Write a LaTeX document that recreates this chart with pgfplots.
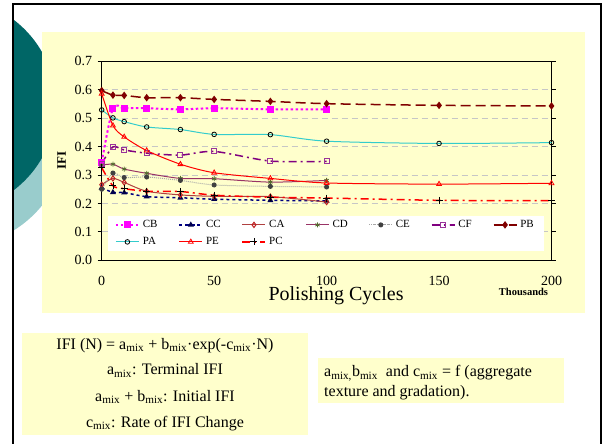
\documentclass[border=0pt]{standalone}
\usepackage{fontspec}
\setmainfont{Liberation Serif}
\usepackage{pgfplots}
\pgfplotsset{compat=1.18}
\definecolor{slideyellow}{HTML}{FFFFCC}
\definecolor{darkteal}{HTML}{006666}
\definecolor{lightteal}{HTML}{99CCCC}
\definecolor{cbcol}{HTML}{FF00FF}
\definecolor{cccol}{HTML}{000080}
\definecolor{cacol}{HTML}{B04040}
\definecolor{camark}{HTML}{C02020}
\definecolor{cdcol}{HTML}{993366}
\definecolor{cdmark}{HTML}{556B2F}
\definecolor{cecol}{HTML}{A8A8A8}
\definecolor{cemark}{HTML}{404040}
\definecolor{cfcol}{HTML}{800080}
\definecolor{cfmark}{HTML}{993399}
\definecolor{pbcol}{HTML}{800000}
\definecolor{pacol}{HTML}{33CCCC}
\definecolor{pecol}{HTML}{FF0000}
\definecolor{pccol}{HTML}{FF0000}
\begin{document}
\begin{tikzpicture}
\path[use as bounding box] (0pt,0pt) rectangle (602pt,-444pt);
\begin{scope}[x=1pt,y=-1pt]
  \fill[white] (0,0) rectangle (602,444);
  \begin{scope}
    \clip (13,4) rectangle (602,444);
    \fill[lightteal] (-45,135) circle (112);
    \fill[darkteal] (-51,105) circle (107);
  \end{scope}
  \draw[black, line width=2.5pt] (13,450) -- (13,4) -- (601,4) -- (601,450);
  \fill[slideyellow] (41.5,32) rectangle (585,313);
  \fill[slideyellow] (22,333) rectangle (308,435);
  \fill[slideyellow] (318,358) rectangle (564,403);
  \node[font=\fontsize{10.5}{12}\selectfont\bfseries] at (523.5,292) {Thousands};
  \begin{scope}[every node/.style={font=\fontsize{16}{18}\selectfont, inner sep=0pt}]
    \node[anchor=base] at (165,349) {IFI (N) = a\textsubscript{mix} + b\textsubscript{mix}·exp(-c\textsubscript{mix}·N)};
    \node[anchor=base] at (165,374.5) {a\textsubscript{mix}: Terminal IFI};
    \node[anchor=base] at (165,401) {a\textsubscript{mix} + b\textsubscript{mix}: Initial IFI};
    \node[anchor=base] at (165,427) {c\textsubscript{mix}: Rate of IFI Change};
    \node[anchor=base west] at (324,376.7) {a\textsubscript{mix,}b\textsubscript{mix}\ \ and c\textsubscript{mix} = f (aggregate};
    \node[anchor=base west] at (324,396.7) {texture and gradation).};
  \end{scope}
\end{scope}
\begin{axis}[
  at={(101.7pt,-260.3pt)}, anchor=south west,
  scale only axis, width=449.8pt, height=199pt,
  xmin=0, xmax=200, ymin=0, ymax=0.7,
  xtick={0,50,100,150,200},
  ytick={0,0.1,0.2,0.3,0.4,0.5,0.6,0.7},
  /pgf/number format/assume math mode=true,
  yticklabel style={/pgf/number format/fixed, /pgf/number format/fixed zerofill, /pgf/number format/precision=1, xshift=-2pt},
  ticklabel style={font=\fontsize{14}{16}\selectfont},
  xticklabel style={inner sep=0pt, yshift=-11.2pt},
  tick align=outside, major tick length=4pt,
  xtick style={draw=none},
  ytick style={black, line width=0.8pt},
  axis line style={line width=1.5pt},
  ymajorgrids,
  major grid style={gray!45, dash pattern=on 6pt off 4pt, line width=0.8pt},
  xlabel={Polishing Cycles},
  xlabel style={at={(axis description cs:0.521,0)}, anchor=center, inner sep=0pt, yshift=-35.5pt, font=\fontsize{20}{24}\selectfont},
  ylabel={IFI},
  ylabel style={at={(axis description cs:-0.089,0.5)}, anchor=center, font=\fontsize{13}{15}\selectfont\bfseries},
  legend columns=7,
  legend cell align=left,
  legend image code/.code={\draw[mark repeat=2,mark phase=2,#1] plot coordinates {(0pt,0pt) (11.5pt,0pt) (23pt,0pt)};},
  legend style={
    at={(rel axis cs:0.0133,0.045)}, anchor=south west,
    draw=none, fill=white,
    font=\fontsize{11}{12}\selectfont,
    inner xsep=7pt, inner ysep=2.5pt,
    row sep=3.5pt,
    nodes={inner xsep=3pt, inner ysep=2pt, text height=7.5pt, text depth=2pt},
    /tikz/every even column/.append style={column sep=18pt},
  },
  every axis plot/.append style={smooth, tension=0.45},
]
% CB
\addplot[color=cbcol, line width=2pt, dash pattern=on 2.5pt off 2.5pt, mark=square*, mark size=2.5pt, mark options={solid, fill=cbcol}]
  coordinates {(0,0.345) (5,0.535) (10,0.535) (20,0.535) (35,0.531) (50,0.535) (75,0.531) (100,0.531)};
\addlegendentry{CB}
% CC
\addplot[color=cccol, line width=1.5pt, dash pattern=on 3pt off 3pt, mark=triangle*, mark size=2pt, mark options={solid, fill=cccol!60!black, draw=cccol!60!black}]
  coordinates {(0,0.255) (5,0.239) (10,0.238) (20,0.224) (35,0.220) (50,0.215) (75,0.211) (100,0.209)};
\addlegendentry{CC}
% CA
\addplot[color=cacol, line width=1pt, mark=diamond, mark size=2.6pt, mark options={solid, draw=camark, fill=white}]
  coordinates {(0,0.266) (5,0.288) (10,0.274) (20,0.243) (35,0.230) (50,0.225) (75,0.224) (100,0.205)};
\addlegendentry{CA}
% CD
\addplot[color=cdcol, line width=1pt, mark=asterisk, mark size=2.5pt, mark options={solid, draw=cdmark, line width=0.8pt}]
  coordinates {(0,0.335) (5,0.338) (10,0.321) (20,0.306) (35,0.288) (50,0.287) (75,0.275) (100,0.281)};
\addlegendentry{CD}
% CE
\addplot[color=cecol, line width=1pt, dash pattern=on 1pt off 1pt, mark=*, mark size=2pt, mark options={solid, fill=cemark, draw=cemark}]
  coordinates {(0,0.250) (5,0.307) (10,0.291) (20,0.293) (35,0.281) (50,0.265) (75,0.260) (100,0.258)};
\addlegendentry{CE}
% CF
\addplot[color=cfcol, line width=1.5pt, dash pattern=on 8pt off 4pt on 2pt off 4pt, mark=square, mark size=2.5pt, mark options={solid, draw=cfmark, fill=white, line width=0.9pt}]
  coordinates {(0,0.340) (5,0.399) (10,0.388) (20,0.377) (35,0.370) (50,0.383) (75,0.349) (100,0.348)};
\addlegendentry{CF}
% PB
\addplot[color=pbcol, line width=1.5pt, dash pattern=on 10pt off 5pt, mark=diamond*, mark size=2.6pt, mark options={solid, fill=pbcol}]
  coordinates {(0,0.597) (5,0.581) (10,0.580) (20,0.572) (35,0.572) (50,0.566) (75,0.559) (100,0.551) (150,0.545) (200,0.543)};
\addlegendentry{PB}
% PA
\addplot[color=pacol, line width=1pt, mark=o, mark size=2.3pt, mark options={solid, draw=black, fill=white, line width=0.8pt}]
  coordinates {(0,0.529) (5,0.501) (10,0.488) (20,0.469) (35,0.460) (50,0.443) (75,0.442) (100,0.419) (150,0.411) (200,0.414)};
\addlegendentry{PA}
% PE
\addplot[color=pecol, line width=1pt, mark=triangle, mark size=2.8pt, mark options={solid, draw=pecol, fill=white, line width=0.8pt}]
  coordinates {(0,0.586) (5,0.474) (10,0.434) (20,0.386) (35,0.338) (50,0.308) (75,0.288) (100,0.272) (150,0.268) (200,0.271)};
\addlegendentry{PE}
% PC
\addplot[color=pccol, line width=1.5pt, dash pattern=on 8pt off 4pt on 2pt off 4pt, mark=+, mark size=3.5pt, mark options={solid, draw=black, line width=0.8pt}]
  coordinates {(0,0.326) (5,0.262) (10,0.252) (20,0.243) (35,0.242) (50,0.229) (75,0.222) (100,0.219) (150,0.211) (200,0.210)};
\addlegendentry{PC}
\end{axis}
\end{tikzpicture}
\end{document}
